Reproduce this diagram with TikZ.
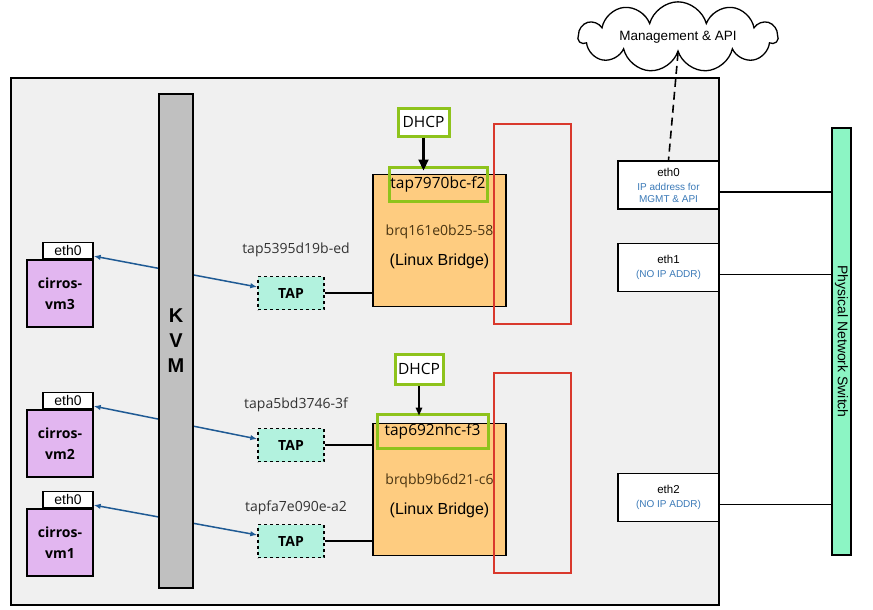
\documentclass[tikz,border=0pt]{standalone}
\usepackage{fontspec}
\setmainfont{Liberation Sans}
\newfontfamily\opensans{Open Sans}
\usepackage{tikz}
\usetikzlibrary{shapes.symbols, arrows.meta}
\definecolor{hostgray}{HTML}{F0F0F0}
\definecolor{kvmgray}{HTML}{C0C0C0}
\definecolor{vmpurple}{HTML}{E2B6F0}
\definecolor{tapmint}{HTML}{B2F2DE}
\definecolor{bridgeorange}{HTML}{FECC80}
\definecolor{dhcpgreen}{HTML}{8EC31C}
\definecolor{boxred}{HTML}{D9382C}
\definecolor{linkblue}{HTML}{1F5A94}
\definecolor{nicblue}{HTML}{3B7AB8}
\definecolor{switchgreen}{HTML}{8CF5C4}
\definecolor{brqbrown}{HTML}{4A3512}
\newcommand*{\nicnote}[1]{\textcolor{nicblue}{\fontsize{10}{12}\selectfont #1}}

\begin{document}
\begin{tikzpicture}[x=1pt, y=-1pt, line width=1.4pt]
      \useasboundingbox (0,0) rectangle (873,610);
      \tikzstyle{vmbox}=[draw, fill=vmpurple, minimum width=66, minimum height=67, inner sep=0, align=center, font=\opensans\bfseries\fontsize{14}{21}\selectfont]
      \tikzstyle{ethtab}=[draw, fill=white, minimum width=50, minimum height=16, inner sep=0, font=\fontsize{14}{14}\selectfont]
      \tikzstyle{tapbox}=[draw, dashed, fill=tapmint, minimum width=66, minimum height=33, inner sep=0, font=\opensans\bfseries\fontsize{14}{14}\selectfont]
      \tikzstyle{tapname}=[font=\opensans\fontsize{14}{14}\selectfont, text=black!80]
      \tikzstyle{bridge}=[draw, fill=bridgeorange, minimum width=133, minimum height=132]
      \tikzstyle{greenbox}=[draw=dhcpgreen, line width=3pt, inner sep=0, font=\opensans\fontsize{15.5}{15.5}\selectfont]
      \tikzstyle{dhcparrow}=[-{Triangle[length=11pt, width=10pt]}, line width=2.2pt]
      \tikzstyle{redbox}=[draw=boxred, line width=1.7pt, minimum width=77, minimum height=200]
      \tikzstyle{pnic}=[draw, fill=white, minimum width=101, minimum height=48, inner sep=0, align=center, font=\fontsize{11.5}{14}\selectfont]

      \node (host) [draw, line width=1.8pt, fill=hostgray, minimum width=708, minimum height=527] at (365,341.5) {};

      % virtual machines and their tap devices
      \foreach \i/\y/\t/\n/\ny in {3/293.5/293/tap5395d19b-ed/250, 2/443.5/445/tapa5bd3746-3f/405, 1/542.5/541/tapfa7e090e-a2/508}
      {
        \node (vm\i) [vmbox] at (60,\y) {cirros-\\vm\i};
        \node (eth\i) [ethtab, anchor=south east] at (vm\i.north east) {eth0};
        \node (tap\i) [tapbox] at (291,\t) {TAP};
        \node (tapname\i) [tapname] at (296,\ny) {\n};
        \draw [{Latex[length=7pt, width=5.5pt]}-{Latex[length=7pt, width=5.5pt]}, linkblue, line width=1.5pt]
          ([yshift=-5.5pt]eth\i.east) -- ([yshift=6pt]tap\i.west);
      }

      \node (kvm) [draw, fill=kvmgray, minimum width=34, minimum height=494, align=center, font=\bfseries\fontsize{20}{25}\selectfont] at (176,341) {K\\V\\M};

      % linux bridges
      \foreach \j/\y/\n in {1/240.5/brq161e0b25-58, 2/489.5/brqbb9b6d21-c6}
      {
        \node (br\j) [bridge] at (439.5,\y) {};
        \node (brname\j) [tapname, text=brqbrown] at ([yshift=-58pt]br\j.north) {\n};
        \node (brkind\j) [font=\fontsize{16}{16}\selectfont] at ([yshift=-88pt]br\j.north) {(Linux Bridge)};
      }

      \draw (tap3.east) -- (tap3.east -| br1.west);
      \draw (tap2.east) -- (tap2.east -| br2.west);
      \draw (tap1.east) -- (tap1.east -| br2.west);

      \node (brtap1) [greenbox, minimum width=98, minimum height=34] at (438,184) {tap7970bc-f2};
      \node (brtap2) [greenbox, minimum width=111, minimum height=34] at (432.5,431) {tap692nhc-f3};
      \node (dhcp1) [greenbox, fill=white, minimum width=51, minimum height=28] at (423.5,122) {DHCP};
      \node (dhcp2) [greenbox, fill=white, minimum width=48, minimum height=30] at (419,369) {DHCP};

      \draw [dhcparrow, shorten >=-5pt] (dhcp1.south) -- (dhcp1.south |- brtap1.north);
      \draw [dhcparrow, line width=1.5pt, -{Triangle[length=8pt, width=6.5pt]}, shorten >=-3pt] (dhcp2.south) -- (dhcp2.south |- brtap2.north);

      \node (red1) [redbox] at (532.5,224) {};
      \node (red2) [redbox] at (532.5,473) {};

      % physical side
      \node (sw) [draw, fill=switchgreen, minimum width=19, minimum height=427, inner sep=0] at (841.5,341.5) {};
      \node (swname) [rotate=-90, font=\fontsize{14}{14}\selectfont] at (sw.center) {Physical Network Switch};

      \foreach \k/\y/\note in {0/185/{\nicnote{IP address for}\\[-2pt]\nicnote{MGMT \& API}}, 1/267.5/{\nicnote{(NO IP ADDR)}}, 2/497.5/{\nicnote{(NO IP ADDR)}}}
      {
        \node (nic\k) [pnic] at (668.5,\y) {eth\k\\\note};
        \coordinate (nicout\k) at ([yshift=-7pt]nic\k.east);
        \draw (nicout\k) -- (nicout\k -| sw.west);
      }

      \node (cloud) [cloud, draw, line width=1.3pt, fill=white, cloud puffs=11, aspect=4.6, minimum width=199, minimum height=45, inner sep=0, font=\fontsize{13.5}{13.5}\selectfont] at (678,37) {Management \& API};
      \draw [dash pattern=on 8pt off 5pt, line width=1.6pt] (cloud.south) -- (nic0.north);
    \end{tikzpicture}
\end{document}
